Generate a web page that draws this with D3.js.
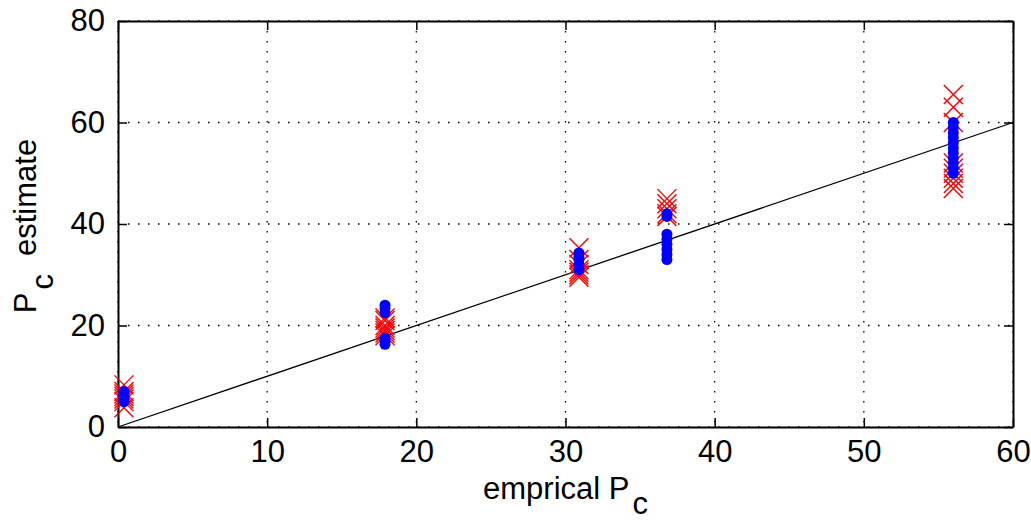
<!DOCTYPE html>
<html>
<head>
<meta charset="utf-8">
<script src="https://cdn.jsdelivr.net/npm/d3@7"></script>
<style>
  body { margin: 0; background: #fff; }
  svg text { font-family: "Liberation Sans", Arial, sans-serif; fill: #000; }
</style>
</head>
<body>
<div id="chart"></div>
<script>
// empirical Pc for each group
const empiricalPc = [0.4, 17.9, 30.9, 36.8, 56];

// estimates (red crosses, blue dots)
const redEstimates = [
    [3.8, 5, 5.5, 6, 6.5, 7, 8.3],
    [18, 18.5, 19, 19.5, 20, 21, 21.5],
    [29.5, 30, 30.5, 31, 32, 33, 35.3],
    [41.5, 42, 43, 44, 45],
    [47, 48, 49, 50, 51, 52, 60, 63, 65.5]
];
const blueEstimates = [
    [5, 5.5, 6, 6.5, 7],
    [16.3, 17, 17.5, 22.5, 23.3, 24],
    [31, 32, 33, 33.5, 34.3],
    [33, 34, 35, 36, 37, 38, 41.5, 42],
    [50, 51, 52, 53, 54, 55, 56, 57, 58, 59, 60]
];

const xTicks = [0, 10, 20, 30, 40, 50, 60];
const yTicks = [0, 20, 40, 60, 80];
const fitLine = [0, 60];

const W = 1031, H = 521;
const margin = { top: 21, right: 18, bottom: 94, left: 118 };
const width = W - margin.left - margin.right;
const height = H - margin.top - margin.bottom;

const svg = d3.select("#chart")
    .append("svg")
    .attr("width", W)
    .attr("height", H)
    .append("g")
    .attr("transform", `translate(${margin.left},${margin.top})`);

const x = d3.scaleLinear().domain([0, 60]).range([0, width]);
const y = d3.scaleLinear().domain([0, 80]).range([height, 0]);

// dotted grid
svg.append("g")
    .selectAll("line.vgrid")
    .data(xTicks)
    .enter()
    .append("line")
    .attr("x1", d => x(d)).attr("x2", d => x(d))
    .attr("y1", 0).attr("y2", height)
    .attr("stroke", "#000")
    .attr("stroke-width", 1.3)
    .attr("stroke-dasharray", "1.5,8.5");

svg.append("g")
    .selectAll("line.hgrid")
    .data(yTicks)
    .enter()
    .append("line")
    .attr("x1", 0).attr("x2", width)
    .attr("y1", d => y(d)).attr("y2", d => y(d))
    .attr("stroke", "#000")
    .attr("stroke-width", 1.3)
    .attr("stroke-dasharray", "1.5,8.5");

// axes with inward ticks
const axisFont = "31px";
const xAxis = svg.append("g")
    .attr("transform", `translate(0,${height})`)
    .call(d3.axisBottom(x).tickValues(xTicks).tickSize(-9).tickSizeOuter(0).tickPadding(13));
xAxis.selectAll("text").style("font-size", axisFont);

svg.append("g")
    .call(d3.axisTop(x).tickValues(xTicks).tickSize(-9).tickSizeOuter(0).tickFormat(""));

const yAxis = svg.append("g")
    .call(d3.axisLeft(y).tickValues(yTicks).tickSize(-9).tickSizeOuter(0).tickPadding(13));
yAxis.selectAll("text").style("font-size", axisFont);

svg.append("g")
    .attr("transform", `translate(${width},0)`)
    .call(d3.axisRight(y).tickValues(yTicks).tickSize(-9).tickSizeOuter(0).tickFormat(""));

svg.selectAll(".domain").attr("stroke", "#000").attr("stroke-width", 2);
svg.selectAll(".tick line").attr("stroke", "#000").attr("stroke-width", 1.5);

// y = x reference line
svg.append("line")
    .attr("x1", x(fitLine[0])).attr("y1", y(fitLine[0]))
    .attr("x2", x(fitLine[1])).attr("y2", y(fitLine[1]))
    .attr("stroke", "#000")
    .attr("stroke-width", 1.3);

// flatten into points
const redPts = [], bluePts = [];
empiricalPc.forEach((pc, i) => {
    redEstimates[i].forEach(v => redPts.push({ pc, v }));
    blueEstimates[i].forEach(v => bluePts.push({ pc, v }));
});

const s = 9.5;
svg.selectAll(".cross")
    .data(redPts)
    .enter()
    .append("path")
    .attr("class", "cross")
    .attr("d", d => {
        const cx = x(d.pc), cy = y(d.v);
        return `M${cx - s},${cy - s}L${cx + s},${cy + s}M${cx - s},${cy + s}L${cx + s},${cy - s}`;
    })
    .attr("stroke", "#ff0000")
    .attr("stroke-width", 1.4)
    .attr("fill", "none");

svg.selectAll(".dot")
    .data(bluePts)
    .enter()
    .append("circle")
    .attr("class", "dot")
    .attr("cx", d => x(d.pc))
    .attr("cy", d => y(d.v))
    .attr("r", 5.5)
    .attr("fill", "#0000ff");

// axis labels
const xl = svg.append("text")
    .attr("x", width / 2)
    .attr("y", height + 72)
    .attr("text-anchor", "middle")
    .style("font-size", "31px");
xl.append("tspan").text("emprical P");
xl.append("tspan").attr("dx", 3).attr("dy", 15).text("c");

const yl = svg.append("text")
    .attr("transform", `translate(${-82},${height / 2 + 2}) rotate(-90)`)
    .attr("text-anchor", "middle")
    .style("font-size", "31px");
yl.append("tspan").text("P");
yl.append("tspan").attr("dx", 3).attr("dy", 17).text("c");
yl.append("tspan").attr("dx", 18).attr("dy", -17).text("estimate");
</script>
</body>
</html>
